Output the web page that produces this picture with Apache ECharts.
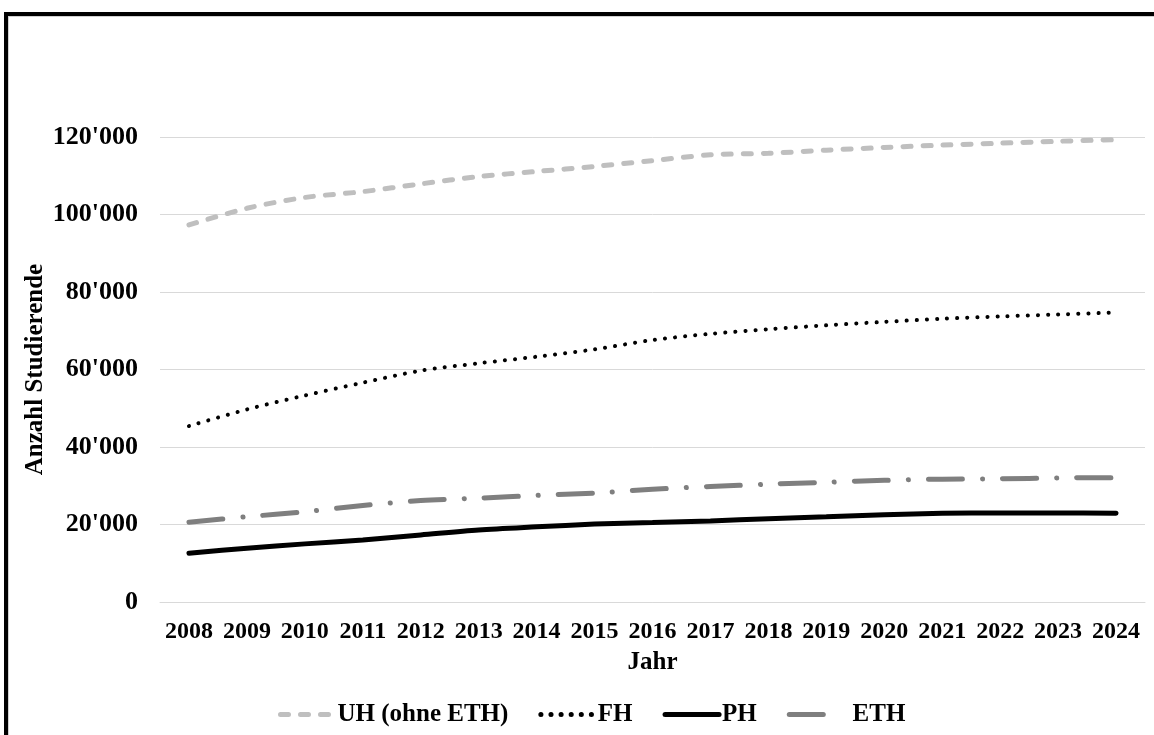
<!DOCTYPE html>
<html>
<head>
<meta charset="utf-8">
<script src="https://cdn.jsdelivr.net/npm/echarts@6/dist/echarts.min.js"></script>
<style>
html,body{margin:0;padding:0;background:#fff;}
#c{width:1154px;height:735px;}
</style>
</head>
<body>
<div id="c"></div>
<script>
const years = ['2008','2009','2010','2011','2012','2013','2014','2015','2016','2017','2018','2019','2020','2021','2022','2023','2024'];
const uh  = [97300,101600,104400,105900,107900,109800,111100,112400,113900,115400,115800,116600,117300,117900,118400,118900,119300];
const fh  = [45400,49700,53300,56600,59700,61600,63300,65200,67600,69200,70400,71400,72300,73100,73700,74200,74700];
const ph  = [12600,13900,15000,16000,17300,18600,19400,20100,20500,20900,21500,22000,22500,22900,23000,23000,22900];
const eth = [20600,22000,23300,24900,26200,26800,27500,28100,29100,29800,30400,30900,31400,31700,31800,32000,32100];
const seriesNames = ['UH (ohne ETH)','FH','PH','ETH'];
const yTicks = {min:0, max:120000, interval:20000};

const FONT = '"Liberation Serif", "Times New Roman", serif';
const fmt = v => String(v).replace(/\B(?=(\d{3})+(?!\d))/g, "'");

const chart = echarts.init(document.getElementById('c'));
chart.setOption({
  animation:false,
  backgroundColor:'#fff',
  graphic:[
    {type:'rect', shape:{x:4,y:12,width:1150,height:4}, style:{fill:'#000'}},
    {type:'rect', shape:{x:4,y:12,width:4,height:723}, style:{fill:'#000'}},
    {type:'rect', shape:{x:8,y:16,width:1146,height:1}, style:{fill:'#d0d0d0'}},
    {type:'rect', shape:{x:8,y:16,width:1,height:719}, style:{fill:'#d0d0d0'}}
  ],
  grid:{left:160, right:9, top:137, bottom:133, containLabel:false},
  legend:{
    data:seriesNames,
    top:697, left:273,
    itemWidth:54, itemHeight:14, itemGap:30,
    itemStyle:{opacity:0},
    lineStyle:{width:5},
    formatter: n => n === 'ETH' ? ' ETH' : n,
    textStyle:{fontFamily:FONT, fontWeight:'bold', fontSize:25, color:'#000', padding:[0,0,0,-2]}
  },
  xAxis:{
    type:'category', data:years, boundaryGap:true,
    axisLine:{show:true, lineStyle:{color:'#d9d9d9', width:1}},
    axisTick:{show:false},
    axisLabel:{fontFamily:FONT, fontWeight:'bold', fontSize:24, color:'#000', margin:18, interval:0},
    name:'Jahr', nameLocation:'middle', nameGap:48, nameMoveOverlap:false,
    nameTextStyle:{fontFamily:FONT, fontWeight:'bold', fontSize:25, color:'#000'}
  },
  yAxis:{
    type:'value', min:yTicks.min, max:yTicks.max, interval:yTicks.interval,
    axisLine:{show:false}, axisTick:{show:false},
    splitLine:{lineStyle:{color:'#d9d9d9', width:1}},
    axisLabel:{fontFamily:FONT, fontWeight:'bold', fontSize:26, color:'#000', margin:22, formatter:fmt},
    name:'Anzahl Studierende', nameLocation:'middle', nameGap:112, nameRotate:90, nameMoveOverlap:false,
    nameTextStyle:{fontFamily:FONT, fontWeight:'bold', fontSize:25, color:'#000'}
  },
  series:[
    {name:seriesNames[0], type:'line', data:uh, smooth:0.3, symbol:'none',
     lineStyle:{color:'#bfbfbf', width:5, type:[8,12], cap:'round'}, itemStyle:{color:'#bfbfbf'}},
    {name:seriesNames[1], type:'line', data:fh, smooth:0.3, symbol:'none',
     lineStyle:{color:'#000', width:4, type:[0.1,10], cap:'round'}, itemStyle:{color:'#000'}},
    {name:seriesNames[2], type:'line', data:ph, smooth:0.3, symbol:'none',
     lineStyle:{color:'#000', width:5, type:'solid', cap:'round'}, itemStyle:{color:'#000'}},
    {name:seriesNames[3], type:'line', data:eth, smooth:0.3, symbol:'none',
     lineStyle:{color:'#7f7f7f', width:5, type:[34,20,0.1,20], cap:'round'}, itemStyle:{color:'#7f7f7f'}}
  ]
});
</script>
</body>
</html>
